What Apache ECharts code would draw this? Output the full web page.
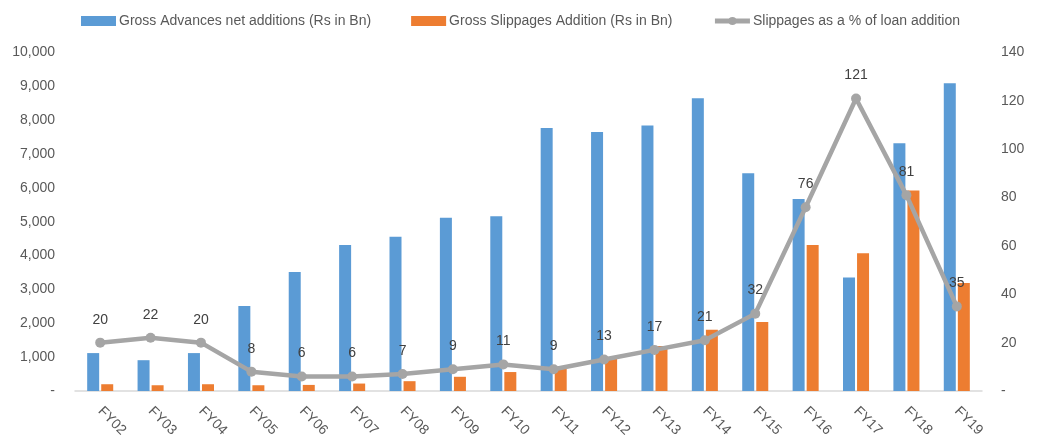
<!DOCTYPE html>
<html>
<head>
<meta charset="utf-8">
<script src="https://cdn.jsdelivr.net/npm/echarts@6/dist/echarts.min.js"></script>
<style>
  html, body { margin: 0; padding: 0; background: #fff; }
  #chart { width: 1052px; height: 437px; }
</style>
</head>
<body>
<div id="chart"></div>
<script>
// Fiscal years on the category axis
const years = ['FY02','FY03','FY04','FY05','FY06','FY07','FY08','FY09','FY10',
               'FY11','FY12','FY13','FY14','FY15','FY16','FY17','FY18','FY19'];

// Gross advances net additions (Rs in Bn)
const advances = [1120, 910, 1120, 2510, 3515, 4315, 4560, 5120, 5160,
                  7770, 7650, 7840, 8650, 6430, 5670, 3350, 7320, 9090];

// Gross slippages addition (Rs in Bn)
const slippages = [200, 170, 200, 170, 180, 220, 290, 420, 560,
                   700, 1000, 1330, 1810, 2040, 4310, 4070, 5920, 3190];

// Slippages as a % of loan addition
const slippagePct = [20, 22, 20, 8, 6, 6, 7, 9, 11, 9, 13, 17, 21, 32, 76, 121, 81, 35];

const FONT = '"Liberation Sans", Arial, sans-serif';
const TEXT = '#595959';

const chart = echarts.init(document.getElementById('chart'), null, { renderer: 'canvas' });

chart.setOption({
  animation: false,
  textStyle: { fontFamily: FONT },
  legend: {
    top: 9,
    left: 76,
    itemWidth: 35,
    itemHeight: 10,
    itemGap: 40,
    textStyle: { fontFamily: FONT, fontSize: 14, color: TEXT, padding: [0, 0, 0, -2] },
    data: [
      { name: 'Gross Advances net additions (Rs in Bn)', icon: 'rect' },
      { name: 'Gross Slippages Addition (Rs in Bn)', icon: 'rect' },
      {
        name: 'Slippages as a % of loan addition',
        itemStyle: { color: '#A5A5A5' },
        lineStyle: { color: '#A5A5A5', width: 5 }
      }
    ]
  },
  grid: {
    left: 75, right: 70, top: 52.5, bottom: 46,
    containLabel: false,
    outerBoundsMode: 'none'
  },
  xAxis: {
    type: 'category',
    data: years,
    axisLine: { lineStyle: { color: '#D9D9D9', width: 1.5 } },
    axisTick: { show: false },
    axisLabel: {
      rotate: -45,
      margin: 18,
      fontFamily: FONT,
      fontSize: 14,
      color: TEXT,
      interval: 0
    }
  },
  yAxis: [
    {
      type: 'value',
      min: 0,
      max: 10000,
      interval: 1000,
      splitLine: { show: false },
      axisLine: { show: false },
      axisTick: { show: false },
      axisLabel: {
        margin: 20,
        fontFamily: FONT,
        fontSize: 14,
        color: TEXT,
        formatter: v => v === 0 ? '-' : v.toLocaleString('en-US')
      }
    },
    {
      type: 'value',
      min: 0,
      max: 140,
      interval: 20,
      splitLine: { show: false },
      axisLine: { show: false },
      axisTick: { show: false },
      axisLabel: {
        margin: 19,
        fontFamily: FONT,
        fontSize: 14,
        color: TEXT,
        formatter: v => v === 0 ? '-' : String(v)
      }
    }
  ],
  series: [
    {
      name: 'Gross Advances net additions (Rs in Bn)',
      type: 'bar',
      data: advances,
      barWidth: 12,
      barGap: '17%',
      itemStyle: { color: '#5B9BD5' }
    },
    {
      name: 'Gross Slippages Addition (Rs in Bn)',
      type: 'bar',
      data: slippages,
      barWidth: 12,
      itemStyle: { color: '#ED7D31' }
    },
    {
      name: 'Slippages as a % of loan addition',
      type: 'line',
      yAxisIndex: 1,
      data: slippagePct,
      symbol: 'circle',
      symbolSize: 10,
      lineStyle: { color: '#A5A5A5', width: 4.5 },
      itemStyle: { color: '#A5A5A5' },
      z: 5,
      label: {
        show: true,
        position: 'top',
        distance: 11,
        fontFamily: FONT,
        fontSize: 14,
        color: '#404040'
      }
    }
  ]
});
</script>
</body>
</html>
